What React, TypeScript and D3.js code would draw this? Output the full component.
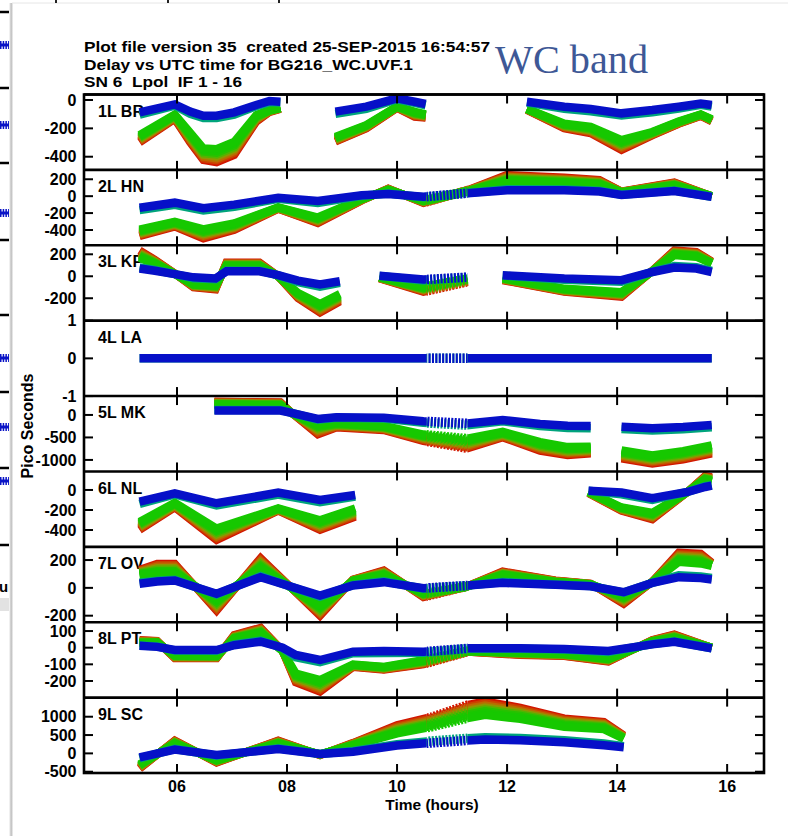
import React from "react";
import * as d3 from "d3";

const WIDTH = 788;
const HEIGHT = 836;

const TITLE_LINES = [
  "Plot file version 35  created 25-SEP-2015 16:54:57",
  "Delay vs UTC time for BG216_WC.UVF.1",
  "SN 6  Lpol  IF 1 - 16",
];
const TITLE_WIDTHS = [406, 329, 158];
const BAND_LABEL = "WC band";
const X_LABEL = "Time (hours)";
const Y_LABEL = "Pico Seconds";

const X_DOMAIN = [4.31, 16.67];
const X_TICKS = [6, 8, 10, 12, 14, 16];
const X_TICK_LABELS = ["06", "08", "10", "12", "14", "16"];
const HASH_RANGE = [10.54, 11.28];

const STATIONS = ["1L BR", "2L HN", "3L KP", "4L LA", "5L MK", "6L NL", "7L OV", "8L PT", "9L SC"];
const Y_DOMAINS = [
  [-493, 39], [-581, 311], [-404, 282], [-1, 1], [-1256, 420],
  [-568, 185], [-247, 295], [-300, 153], [-535, 1521],
];
const Y_TICKS = [
  [0, -200, -400], [200, 0, -200, -400], [200, 0, -200], [1, 0, -1], [0, -500, -1000],
  [0, -200, -400], [200, 0, -200], [100, 0, -100, -200], [1000, 500, 0, -500],
];

// IF colours: lower IFs red -> green, upper IFs teal -> blue
const IF_BAND_COLORS = ["#d21600", "#cc4000", "#bb6a00", "#8f9600", "#52b400", "#26c200", "#18c700", "#16c800"];
const IF_BLUE_COLORS = ["#00a47c", "#0610c8"];

// ---- delay data (ps) per station, per scan segment ----
// time (h), upper-IF (blue) delay, lower-IF green extreme, lower-IF red extreme
const BR_T = [
  [5.32, 5.96, 6.24, 6.48, 6.72, 7.04, 7.44, 7.68, 7.88],
  [8.88, 9.44, 10.0, 10.32, 10.52],
  [12.36, 13.04, 13.52, 14.08, 14.64, 15.12, 15.52, 15.72],
];
const BR_BLUE = [
  [-87, -31, -82, -111, -111, -87, -35, -7, -12],
  [-82, -47, 12, -12, -28],
  [-12, -47, -64, -94, -71, -47, -24, -35],
];
const BR_GREEN = [
  [-247, -101, -230, -341, -346, -294, -106, -70, -55],
  [-259, -176, -45, -82, -100],
  [-62, -165, -188, -282, -224, -150, -100, -135],
];
const BR_RED = [
  [-299, -134, -300, -424, -440, -388, -153, -85, -62],
  [-294, -200, -55, -118, -125],
  [-70, -200, -235, -353, -250, -168, -112, -150],
];

const HN_T = [[5.32, 5.96, 6.48, 7.04, 7.84, 8.56, 9.36, 9.84, 10.48, 11.28, 12.0, 13.04, 13.68, 14.08, 15.04, 15.72]];
const HN_BLUE = [[-137, -77, -143, -100, -18, -58, 10, 25, -8, 35, 70, 70, 55, 15, 60, -8]];
const HN_GREEN = [[-392, -300, -390, -320, -130, -250, -30, 70, -50, 55, 172, 152, 132, 45, 124, 0]];
const HN_RED = [[-474, -360, -500, -400, -150, -320, -50, 90, -80, 70, 252, 220, 192, 55, 164, 0]];

const KP_T = [
  [5.32, 5.6, 5.96, 6.3, 6.7, 6.9, 7.5, 7.84, 8.2, 8.6, 8.96],
  [9.68, 10.48, 11.28],
  [11.92, 13.04, 14.08, 14.64, 15.04, 15.44, 15.72],
];
const KP_BLUE = [
  [70, 50, 20, -10, -20, 45, 45, 10, -40, -75, -45],
  [5, -30, -8],
  [9, -21, -36, 39, 80, 70, 39],
];
const KP_GREEN = [
  [165, 110, 20, -70, -80, 90, 90, 0, -150, -250, -160],
  [-8, -97, -21],
  [-15, -112, -142, 45, 191, 176, 115],
];
const KP_RED = [
  [235, 150, 25, -100, -120, 125, 125, 0, -200, -330, -230],
  [-20, -142, -52],
  [-36, -142, -188, 50, 236, 221, 136],
];

const LA_T = [[5.32, 15.72]];
const LA_BLUE = [[0, 0]];
const LA_GREEN = [[0, 0]];
const LA_RED = [[0, 0]];

const MK_T = [
  [6.68, 7.2, 7.88, 8.1, 8.56, 8.9, 9.76, 10.48, 11.28, 11.92, 12.6, 13.1, 13.52],
  [14.08, 14.64, 15.2, 15.72],
];
const MK_BLUE = [
  [97, 97, 97, 40, -90, -50, -60, -140, -187, -112, -200, -240, -246],
  [-261, -298, -270, -224],
];
const MK_GREEN = [
  [224, 215, 209, 30, -201, -170, -240, -430, -522, -373, -600, -709, -700],
  [-783, -895, -800, -671],
];
const MK_RED = [
  [300, 290, 283, 30, -433, -280, -340, -580, -746, -500, -800, -895, -860],
  [-970, -1082, -990, -858],
];

const NL_T = [
  [5.32, 5.96, 6.72, 7.84, 8.6, 9.24],
  [13.48, 14.08, 14.64, 15.28, 15.6, 15.72],
];
const NL_BLUE = [
  [-117, -33, -133, -27, -100, -50],
  [-7, -25, -83, -20, 30, 43],
];
const NL_GREEN = [
  [-317, -127, -383, -183, -300, -183],
  [-17, -173, -227, -20, 100, 83],
];
const NL_RED = [
  [-400, -173, -500, -207, -400, -267],
  [-33, -207, -293, -20, 140, 127],
];

const OV_T = [[5.32, 5.64, 5.96, 6.72, 7.52, 8.6, 9.2, 9.76, 10.48, 11.28, 11.92, 12.88, 13.52, 14.12, 14.64, 15.12, 15.52, 15.72]];
const OV_BLUE = [[29, 45, 53, -43, 77, -55, 17, 41, -2, 17, 36, 22, 12, -31, 36, 77, 70, 60]];
const OV_GREEN = [[90, 101, 101, -80, 137, -128, 50, 89, -36, 10, 89, 41, 25, -55, 40, 186, 174, 157]];
const OV_RED = [[130, 174, 174, -164, 214, -200, 60, 125, -67, 12, 118, 53, 30, -116, 45, 253, 246, 181]];

const PT_T = [[5.32, 5.64, 5.96, 6.72, 7.04, 7.52, 7.92, 8.16, 8.6, 9.2, 9.76, 10.48, 11.28, 12.24, 13.04, 13.84, 14.64, 15.04, 15.72]];
const PT_BLUE = [[12, 5, -14, -14, 15, 36, 0, -44, -74, -24, -20, -24, -4, -4, -8, -20, 20, 36, -4]];
const PT_GREEN = [[26, 30, -44, -48, 52, 86, -20, -154, -194, -100, -114, -74, -20, -28, -36, -64, 36, 56, 0]];
const PT_RED = [[46, 40, -64, -64, 76, 120, -20, -208, -264, -116, -132, -100, -25, -44, -50, -84, 46, 80, 0]];

const SC_T = [[5.32, 5.96, 6.72, 7.84, 8.6, 9.2, 10.0, 10.64, 11.28, 11.6, 12.24, 13.04, 13.76, 14.12]];
const SC_BLUE = [[-111, 102, -46, 120, -19, 46, 213, 287, 352, 380, 360, 306, 220, 167]];
const SC_GREEN = [[-296, 259, -176, 259, -20, 213, 537, 722, 954, 1046, 935, 722, 657, 398]];
const SC_RED = [[-417, 352, -250, 352, -50, 287, 769, 1000, 1324, 1417, 1250, 954, 861, 491]];

const ALL_T = [BR_T, HN_T, KP_T, LA_T, MK_T, NL_T, OV_T, PT_T, SC_T];
const ALL_BLUE = [BR_BLUE, HN_BLUE, KP_BLUE, LA_BLUE, MK_BLUE, NL_BLUE, OV_BLUE, PT_BLUE, SC_BLUE];
const ALL_GREEN = [BR_GREEN, HN_GREEN, KP_GREEN, LA_GREEN, MK_GREEN, NL_GREEN, OV_GREEN, PT_GREEN, SC_GREEN];
const ALL_RED = [BR_RED, HN_RED, KP_RED, LA_RED, MK_RED, NL_RED, OV_RED, PT_RED, SC_RED];

// background window remnants on the left edge
const BACK_LINE_Y = [12, 88, 163, 240, 315, 392, 468, 545];
const BACK_MARK_Y = [45, 125, 213, 358, 427, 481];

const FONT = "'Liberation Sans', Arial, Helvetica, sans-serif";

export default function App() {
  const left = 84, right = 764, top = 94.5, bottom = 773;
  const ph = (bottom - top) / STATIONS.length;
  const x = d3.scaleLinear().domain(X_DOMAIN).range([left, right]);
  const line = d3.line<[number, number]>().x((d) => d[0]).y((d) => d[1]);
  const hx0 = x(HASH_RANGE[0]);
  const hx1 = x(HASH_RANGE[1]);
  const NIF = IF_BAND_COLORS.length;

  const panels = STATIONS.map((name, i) => {
    const y0 = top + i * ph;
    const y = d3.scaleLinear().domain(Y_DOMAINS[i]).range([y0 + ph, y0]);
    const paths: { d: string; color: string; w: number }[] = [];
    ALL_T[i].forEach((ts, s) => {
      const b = ALL_BLUE[i][s];
      const g = ALL_GREEN[i][s];
      const r = ALL_RED[i][s];
      if (i !== 3) {
        for (let j = 0; j < NIF; j++) {
          const f = j / (NIF - 1);
          const pts = ts.map((t, k) => [x(t), y(r[k] + (g[k] - r[k]) * f)] as [number, number]);
          paths.push({ d: line(pts) || "", color: IF_BAND_COLORS[j], w: 8 });
        }
      }
      const teal = ts.map((t, k) => {
        const off = Math.max(-2.2, Math.min(2.2, 0.12 * (y(g[k]) - y(b[k]))));
        return [x(t), y(b[k]) + off] as [number, number];
      });
      paths.push({ d: line(teal) || "", color: IF_BLUE_COLORS[0], w: 8.5 });
      const blue = ts.map((t, k) => [x(t), y(b[k])] as [number, number]);
      paths.push({ d: line(blue) || "", color: IF_BLUE_COLORS[1], w: 8.5 });
    });
    return { name, i, y0, y, paths };
  });

  const textStyle: React.CSSProperties = { fontFamily: FONT, fontWeight: "bold", whiteSpace: "pre" };

  return (
    <svg width={WIDTH} height={HEIGHT} style={{ position: "absolute", left: 0, top: 0, background: "#fff" }}>
      <defs>
        <linearGradient id="edge" x1="0" x2="1" y1="0" y2="0">
          <stop offset="0" stopColor="#ffffff" />
          <stop offset="0.55" stopColor="#bdbdbd" />
          <stop offset="1" stopColor="#f4f4f4" />
        </linearGradient>
        <clipPath id="leftstrip">
          <rect x={0} y={0} width={11} height={HEIGHT} />
        </clipPath>
        <clipPath id="nohash">
          <rect x={0} y={0} width={hx0} height={HEIGHT} />
          <rect x={hx1} y={0} width={WIDTH - hx1} height={HEIGHT} />
        </clipPath>
        <clipPath id="hash">
          <rect x={hx0} y={0} width={hx1 - hx0} height={HEIGHT} />
        </clipPath>
        {panels.map((p) => (
          <clipPath id={`pc${p.i}`} key={p.i}>
            <rect x={left} y={p.y0} width={right - left} height={ph} />
          </clipPath>
        ))}
      </defs>

      <rect x={0} y={0} width={WIDTH} height={HEIGHT} fill="#fff" />

      {/* background window remnants */}
      <g clipPath="url(#leftstrip)">
        {BACK_LINE_Y.map((yy) => (
          <line key={yy} x1={0} x2={12} y1={yy} y2={yy} stroke="#000" strokeWidth={2.5} />
        ))}
        {BACK_MARK_Y.map((yy) => (
          <g key={yy}>
            <line x1={0} x2={11} y1={yy} y2={yy} stroke="#0a14c6" strokeWidth={3} />
            <line x1={0} x2={11} y1={yy} y2={yy} stroke="#0a14c6" strokeWidth={8} strokeDasharray="1.5 1.2" />
          </g>
        ))}
        <text x={-1} y={592} fontSize={15} style={textStyle}>ur</text>
        <rect x={0} y={598} width={12} height={13} fill="#e2e2e2" />
      </g>
      <rect x={9} y={3} width={4} height={HEIGHT} fill="url(#edge)" />
      <line x1={12} x2={WIDTH} y1={3} y2={3} stroke="#e6e6e6" strokeWidth={1} />
      {[55, 167, 278].map((xx) => (
        <rect key={xx} x={xx} y={0} width={2} height={3} fill="#222" />
      ))}

      {/* titles */}
      {TITLE_LINES.map((t, k) => (
        <text key={k} x={left} y={52.3 + k * 17.2} fontSize={15.5} style={textStyle}
          textLength={TITLE_WIDTHS[k]} lengthAdjust="spacingAndGlyphs">{t}</text>
      ))}
      <text x={495} y={73} fontSize={39} fill="#3e5896" textLength={153} lengthAdjust="spacingAndGlyphs"
        style={{ fontFamily: "'Liberation Serif', 'Times New Roman', serif" }}>{BAND_LABEL}</text>

      {/* panels */}
      {panels.map((p) => (
        <g key={p.i}>
          <text x={98} y={p.y0 + 22.2} fontSize={16} style={textStyle}>{p.name}</text>
          <g clipPath={`url(#pc${p.i})`}>
            <g clipPath="url(#nohash)">
              {p.paths.map((q, k) => (
                <path key={k} d={q.d} fill="none" stroke={q.color} strokeWidth={q.w}
                  strokeLinejoin="miter" strokeMiterlimit={3} />
              ))}
            </g>
            <g clipPath="url(#hash)">
              {p.paths.map((q, k) => (
                <path key={k} d={q.d} fill="none" stroke={q.color} strokeWidth={q.w + 1}
                  strokeDasharray="2 1.4" />
              ))}
            </g>
          </g>
          {Y_TICKS[p.i].map((v) => (
            <g key={v}>
              <line x1={left} x2={left + 9} y1={p.y(v)} y2={p.y(v)} stroke="#000" strokeWidth={2} />
              <line x1={right - 9} x2={right} y1={p.y(v)} y2={p.y(v)} stroke="#000" strokeWidth={2} />
              <text x={76.5} y={p.y(v)} dy="0.36em" textAnchor="end" fontSize={16} style={textStyle}>{v}</text>
            </g>
          ))}
          {X_TICKS.map((t) => (
            <g key={t}>
              <line x1={x(t)} x2={x(t)} y1={p.y0} y2={p.y0 + 9} stroke="#000" strokeWidth={2} />
              <line x1={x(t)} x2={x(t)} y1={p.y0 + ph - 9} y2={p.y0 + ph} stroke="#000" strokeWidth={2} />
            </g>
          ))}
          <line x1={left} x2={right} y1={p.y0} y2={p.y0} stroke="#000" strokeWidth={2.6} />
        </g>
      ))}
      <rect x={left} y={top} width={right - left} height={bottom - top} fill="none" stroke="#000" strokeWidth={2.6} />

      {X_TICKS.map((t, k) => (
        <text key={t} x={x(t)} y={792.3} textAnchor="middle" fontSize={16} style={textStyle}>{X_TICK_LABELS[k]}</text>
      ))}
      <text x={432} y={809.5} textAnchor="middle" fontSize={15.5} style={textStyle}>{X_LABEL}</text>
      <text transform="translate(32.5,426) rotate(-90)" textAnchor="middle" fontSize={16} style={textStyle}>{Y_LABEL}</text>
    </svg>
  );
}
